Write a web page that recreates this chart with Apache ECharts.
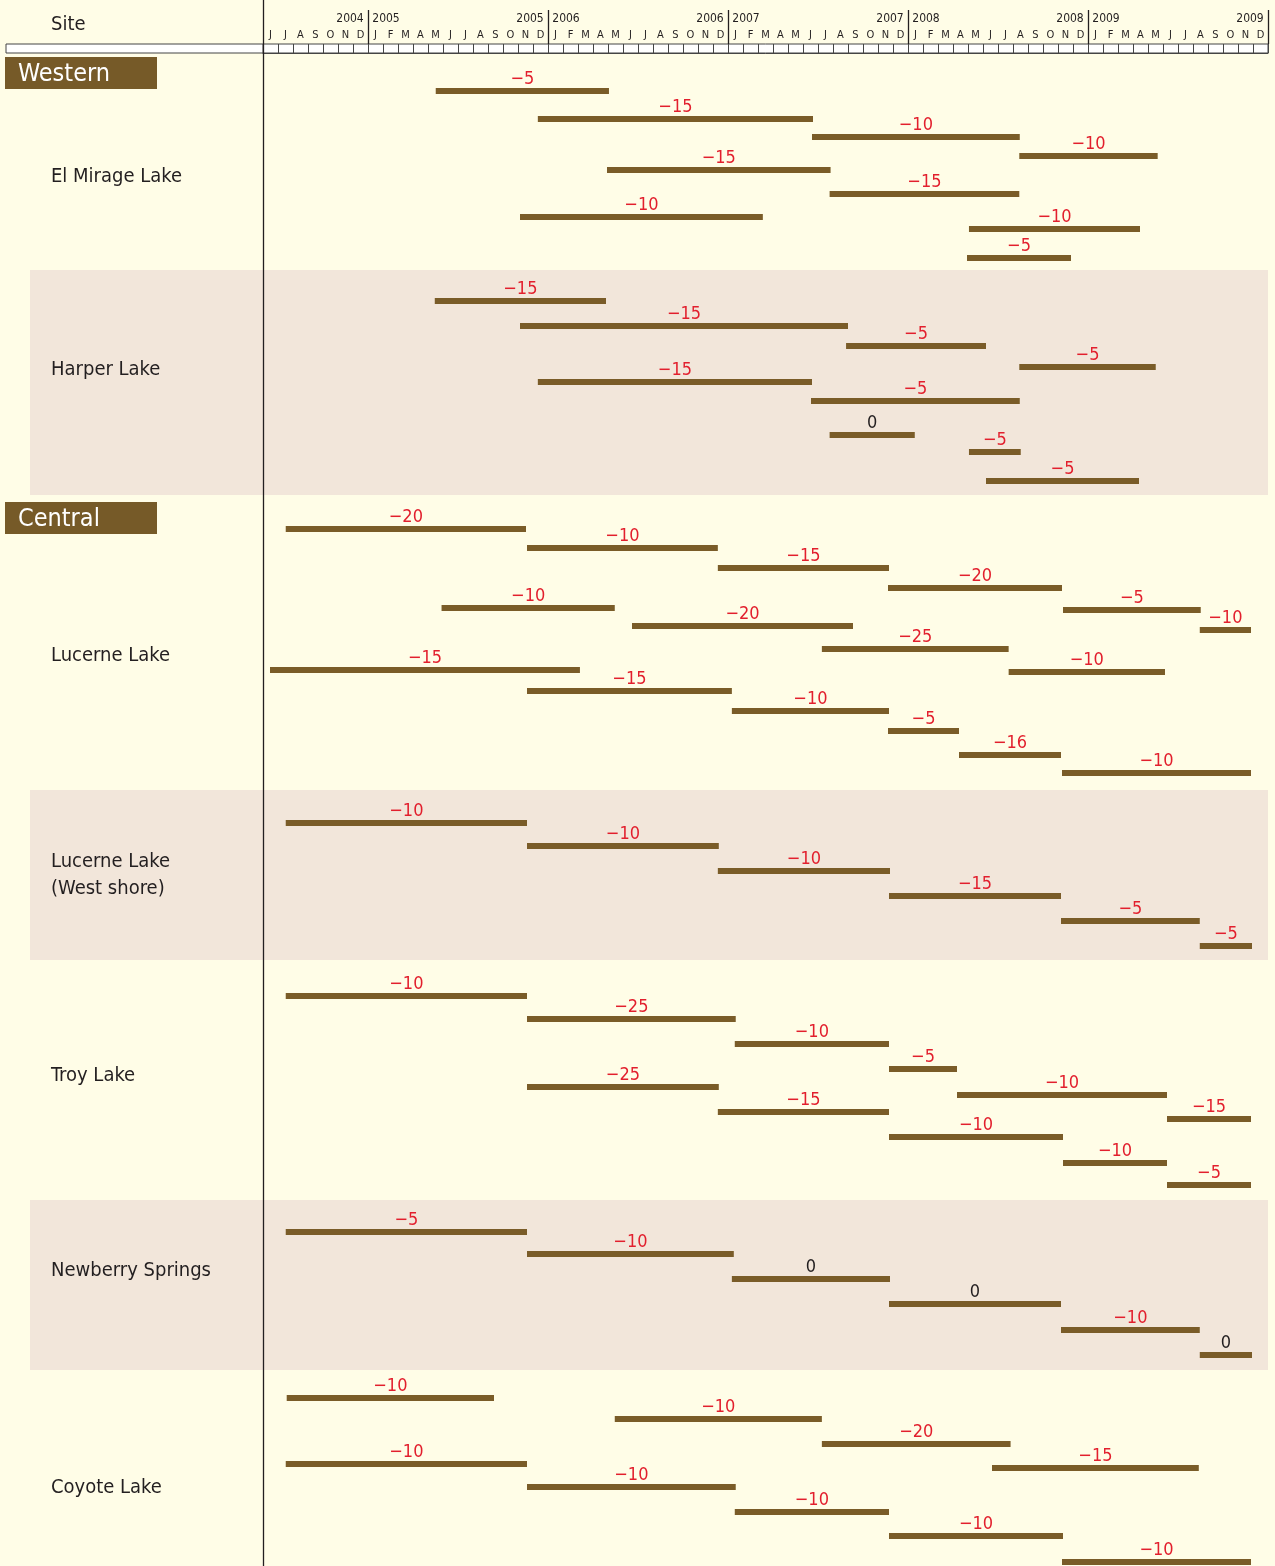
<!DOCTYPE html>
<html>
<head>
<meta charset="utf-8">
<title>Interferogram pairs by site</title>
<script src="https://cdn.jsdelivr.net/npm/echarts@6/dist/echarts.min.js"></script>
<style>
  html, body { margin: 0; padding: 0; background: #fffde7; }
  #main { width: 1275px; height: 1566px; }
</style>
</head>
<body>
<div id="main"></div>
<script>
// time axis: month columns from June 2004 to December 2009
const monthLetters = ['J', 'F', 'M', 'A', 'M', 'J', 'J', 'A', 'S', 'O', 'N', 'D'];
const firstYear = 2004, firstMonth = 6, monthCount = 67;
const yearBreaks = [7, 19, 31, 43, 55, 67];
const yearLabels = [['2004', '2005'], ['2005', '2006'], ['2006', '2007'], ['2007', '2008'], ['2008', '2009'], ['2009', ' ']];

// sites (vertical positions are in "track" units of the y axis)
const siteNames = ['El Mirage Lake', 'Harper Lake', 'Lucerne Lake', 'Lucerne Lake\n(West shore)', 'Troy Lake', 'Newberry Springs', 'Coyote Lake'];
const siteLabelTrack = [17.7, 37.0, 65.6, 87.5, 107.6, 127.1, 148.8];
const shadedBands = [[27.0, 49.5], [79.0, 96.0], [120.0, 137.0]];
const regionNames = ['Western', 'Central'];
const regionTrack = [7.3, 51.8];

// interferogram pairs: [first date, second date, track, value]
const elMirage = [
  ['2005-05-17', '2006-05-03', 9.1, -5],
  ['2005-12-11', '2007-06-21', 11.9, -15],
  ['2007-06-19', '2008-08-15', 13.7, -10],
  ['2008-08-14', '2009-05-21', 15.6, -10],
  ['2006-04-29', '2007-07-27', 17.0, -15],
  ['2007-07-25', '2008-08-14', 19.4, -15],
  ['2005-11-05', '2007-03-11', 21.7, -10],
  ['2008-05-03', '2009-04-15', 22.9, -10],
  ['2008-04-29', '2008-11-27', 25.8, -5]
];
const harper = [
  ['2005-05-15', '2006-04-27', 30.1, -15],
  ['2005-11-05', '2007-09-01', 32.6, -15],
  ['2007-08-28', '2008-06-07', 34.6, -5],
  ['2008-08-14', '2009-05-17', 36.7, -5],
  ['2005-12-11', '2007-06-19', 38.2, -15],
  ['2007-06-17', '2008-08-15', 40.1, -5],
  ['2007-07-25', '2008-01-15', 43.5, 0],
  ['2008-05-03', '2008-08-17', 45.2, -5],
  ['2008-06-07', '2009-04-13', 48.1, -5]
];
const lucerne = [
  ['2004-07-17', '2005-11-17', 52.9, -20],
  ['2005-11-19', '2006-12-11', 54.8, -10],
  ['2006-12-11', '2007-11-23', 56.8, -15],
  ['2007-11-21', '2008-11-09', 58.8, -20],
  ['2008-11-11', '2009-08-17', 61.0, -5],
  ['2009-08-15', '2009-11-27', 63.0, -10],
  ['2005-05-29', '2006-05-15', 60.8, -10],
  ['2006-06-19', '2007-09-11', 62.6, -20],
  ['2007-07-09', '2008-07-23', 64.9, -25],
  ['2004-06-15', '2006-03-05', 67.0, -15],
  ['2008-07-23', '2009-06-05', 67.2, -10],
  ['2005-11-19', '2007-01-09', 69.1, -15],
  ['2007-01-09', '2007-11-23', 71.1, -10],
  ['2007-11-21', '2008-04-13', 73.1, -5],
  ['2008-04-13', '2008-11-07', 75.5, -16],
  ['2008-11-09', '2009-11-27', 77.3, -10]
];
const lucerneWest = [
  ['2004-07-17', '2005-11-19', 82.3, -10],
  ['2005-11-19', '2006-12-13', 84.6, -10],
  ['2006-12-11', '2007-11-25', 87.1, -10],
  ['2007-11-23', '2008-11-07', 89.6, -15],
  ['2008-11-07', '2009-08-15', 92.1, -5],
  ['2009-08-15', '2009-11-29', 94.6, -5]
];
const troy = [
  ['2004-07-17', '2005-11-19', 99.6, -10],
  ['2005-11-19', '2007-01-17', 101.9, -25],
  ['2007-01-15', '2007-11-23', 104.4, -10],
  ['2007-11-23', '2008-04-09', 106.9, -5],
  ['2008-04-09', '2009-06-09', 109.5, -10],
  ['2005-11-19', '2006-12-13', 108.7, -25],
  ['2006-12-11', '2007-11-23', 111.2, -15],
  ['2007-11-23', '2008-11-11', 113.7, -10],
  ['2009-06-09', '2009-11-27', 111.9, -15],
  ['2008-11-11', '2009-06-09', 116.3, -10],
  ['2009-06-09', '2009-11-27', 118.5, -5]
];
const newberry = [
  ['2004-07-17', '2005-11-19', 123.2, -5],
  ['2005-11-19', '2007-01-13', 125.4, -10],
  ['2007-01-09', '2007-11-25', 127.9, 0],
  ['2007-11-23', '2008-11-07', 130.4, 0],
  ['2008-11-07', '2009-08-15', 133.0, -10],
  ['2009-08-15', '2009-11-29', 135.5, 0]
];
const coyote = [
  ['2004-07-19', '2005-09-13', 139.8, -10],
  ['2006-05-15', '2007-07-09', 141.9, -10],
  ['2007-07-09', '2008-07-27', 144.4, -20],
  ['2008-06-19', '2009-08-13', 146.8, -15],
  ['2004-07-17', '2005-11-19', 146.4, -10],
  ['2005-11-19', '2007-01-17', 148.7, -10],
  ['2007-01-15', '2007-11-23', 151.2, -10],
  ['2007-11-23', '2008-11-11', 153.6, -10],
  ['2008-11-09', '2009-11-27', 156.2, -10]
];

const FONT = "'Liberation Sans Narrow', 'DejaVu Sans Condensed', 'Roboto', sans-serif";
const BAR = '#7a5c28';
const RED = '#e21f2d';
const INK = '#231f20';

function toMonth(d) {
  const [y, m, day] = d.split('-').map(Number);
  const days = new Date(y, m, 0).getDate();
  return (y - firstYear) * 12 + (m - firstMonth) + (day - 1) / days;
}

function fmtValue(v) {
  return v < 0 ? '\u2212' + Math.abs(v) : String(v);
}

const allPairs = [].concat(elMirage, harper, lucerne, lucerneWest, troy, newberry, coyote);
const barData = allPairs.map(p => [toMonth(p[0]), toMonth(p[1]), p[2], p[3]]);
const monthCats = Array.from({length: monthCount}, (_, i) => monthLetters[(i + firstMonth - 1) % 12]);

let chart = echarts.init(document.getElementById('main'));

let option = {
  backgroundColor: '#fffde7',
  animation: false,
  textStyle: {fontFamily: FONT},
  grid: [
    {left: 263, right: 7, top: 0, bottom: 0, containLabel: false, outerBoundsMode: 'none'},
    {
      left: 263, right: 7, top: 44, height: 9, containLabel: false, outerBoundsMode: 'none',
      show: true, backgroundColor: '#fff', borderColor: '#444', borderWidth: 1
    }
  ],
  xAxis: [
    {gridIndex: 0, type: 'value', min: 0, max: monthCount, show: false},
    {
      gridIndex: 1, type: 'category', data: monthCats, boundaryGap: true, position: 'top',
      axisLine: {lineStyle: {color: '#444', width: 1}},
      axisTick: {interval: 0, length: 9, lineStyle: {color: '#444', width: 1}},
      axisLabel: {interval: 0, fontSize: 11, margin: 3, color: INK, fontFamily: FONT},
      splitLine: {show: true, interval: 0, lineStyle: {color: '#444', width: 1}}
    },
    {
      gridIndex: 1, type: 'value', min: 0, max: monthCount, position: 'top',
      axisLine: {show: false},
      splitLine: {show: false},
      axisTick: {show: true, customValues: yearBreaks, length: 34, lineStyle: {color: INK, width: 1.3}},
      axisLabel: {
        customValues: yearBreaks,
        margin: 19,
        showMinLabel: true,
        showMaxLabel: true,
        hideOverlap: false,
        formatter: function (v) {
          const i = yearBreaks.indexOf(v);
          if (i < 0) return '';
          return '{l|' + yearLabels[i][0] + '}{r|' + yearLabels[i][1] + '}';
        },
        rich: {
          l: {width: 30, align: 'right', fontSize: 12, color: INK, fontFamily: FONT, padding: [0, 3, 0, 0]},
          r: {width: 30, align: 'left', fontSize: 12, color: INK, fontFamily: FONT, padding: [0, 0, 0, 3]}
        }
      }
    }
  ],
  yAxis: [
    {
      gridIndex: 0, type: 'value', min: 0, max: 156.6, inverse: true, z: 10,
      axisLine: {show: true, onZero: false, lineStyle: {color: INK, width: 1.3}},
      axisTick: {show: false}, axisLabel: {show: false}, splitLine: {show: false}
    },
    {gridIndex: 1, type: 'value', show: false}
  ],
  graphic: [
    {type: 'rect', shape: {x: 6, y: 44, width: 257, height: 9}, style: {fill: '#fff', stroke: '#444', lineWidth: 1}},
    {type: 'text', x: 51, y: 25, style: {text: 'Site', fontSize: 20, fontFamily: FONT, fill: INK, verticalAlign: 'middle'}}
  ],
  series: [
    {
      // shaded site bands
      type: 'custom', xAxisIndex: 0, yAxisIndex: 0, silent: true, clip: false, z: 1,
      data: shadedBands,
      renderItem: function (params, api) {
        const top = api.coord([0, api.value(0)]);
        const bottom = api.coord([monthCount, api.value(1)]);
        return {
          type: 'rect',
          shape: {x: 30, y: top[1], width: bottom[0] - 30, height: bottom[1] - top[1]},
          style: {fill: '#f2e6da'}
        };
      }
    },
    {
      // site names
      type: 'custom', xAxisIndex: 0, yAxisIndex: 0, silent: true, clip: false, z: 4,
      data: siteLabelTrack.map(t => [0, t]),
      renderItem: function (params, api) {
        const p = api.coord([0, api.value(1)]);
        return {
          type: 'text',
          style: {
            text: siteNames[params.dataIndex], x: 51, y: p[1],
            fontSize: 20, lineHeight: 27, fontFamily: FONT, fill: INK,
            align: 'left', verticalAlign: 'middle'
          }
        };
      }
    },
    {
      // region headings
      type: 'custom', xAxisIndex: 0, yAxisIndex: 0, silent: true, clip: false, z: 4,
      data: regionTrack.map(t => [0, t]),
      renderItem: function (params, api) {
        const p = api.coord([0, api.value(1)]);
        return {
          type: 'group',
          children: [
            {type: 'rect', shape: {x: 5, y: p[1] - 16, width: 152, height: 32}, style: {fill: '#765a28'}},
            {
              type: 'text',
              style: {
                text: regionNames[params.dataIndex], x: 18, y: p[1] + 1,
                fontSize: 25, fontFamily: FONT, fill: '#fff', align: 'left', verticalAlign: 'middle'
              }
            }
          ]
        };
      }
    },
    {
      // interferogram time spans
      type: 'custom', xAxisIndex: 0, yAxisIndex: 0, silent: true, clip: false, z: 5,
      data: barData,
      encode: {x: [0, 1], y: 2},
      renderItem: function (params, api) {
        const a = api.coord([api.value(0), api.value(2)]);
        const b = api.coord([api.value(1), api.value(2)]);
        const v = api.value(3);
        return {
          type: 'rect',
          shape: {x: a[0], y: a[1] - 3, width: b[0] - a[0], height: 6},
          style: {fill: BAR},
          textContent: {
            style: {text: fmtValue(v), fill: v < 0 ? RED : INK, fontSize: 18, fontFamily: FONT}
          },
          textConfig: {position: 'top', distance: 0}
        };
      }
    }
  ]
};

chart.setOption(option);
</script>
</body>
</html>
